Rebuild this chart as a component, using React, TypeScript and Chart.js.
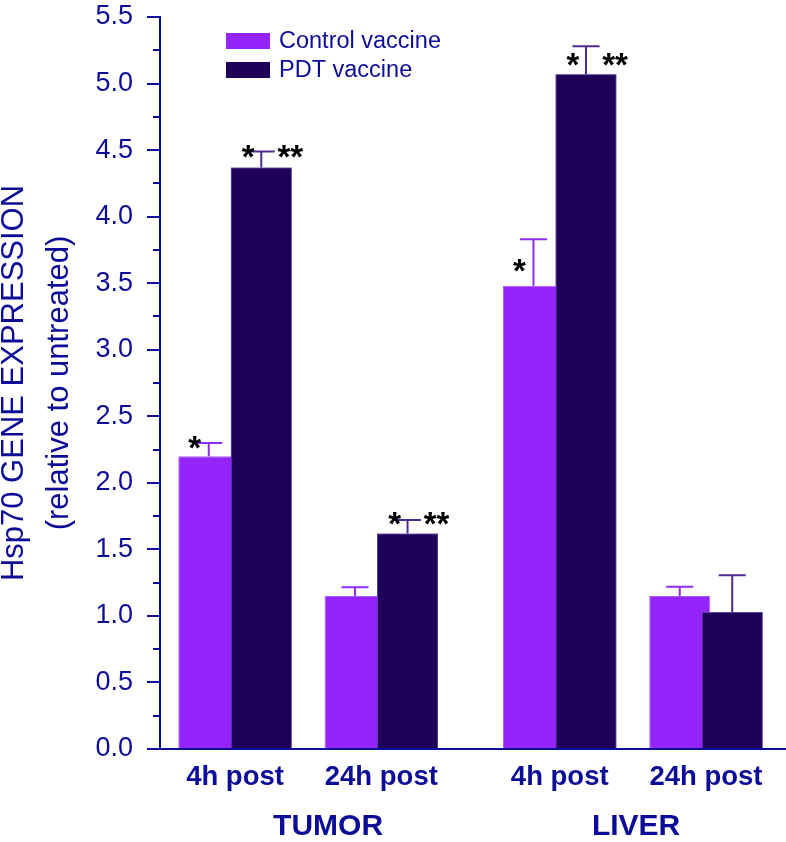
import React, { useEffect, useRef } from 'react';
import { Chart, registerables } from 'chart.js';

Chart.register(...registerables);

// ---- data ----
const tickLabels = ['4h post', '24h post', '4h post', '24h post'];
const groupLabels = ['TUMOR', 'LIVER'];
const groupSlots = [0, 1, 2.22, 3.22];
const groupLabelSlots = [0.636, 2.742];
const seriesNames = ['Control vaccine', 'PDT vaccine'];
const controlValues = [2.2, 1.15, 3.48, 1.15];
const controlErrors = [0.1, 0.065, 0.35, 0.07];
const pdtValues = [4.37, 1.62, 5.07, 1.03];
const pdtErrors = [0.12, 0.1, 0.21, 0.275];
const controlMarks = ['*', '', '*', ''];
const controlMarkLevels = [2.32, null, 3.65, null];
const pdtMarksLeft = ['*', '*', '*', ''];
const pdtMarksRight = ['**', '**', '**', ''];
const pdtMarkLevels = [4.51, 1.75, 5.2, null];
const yTickValues = [0, 0.5, 1, 1.5, 2, 2.5, 3, 3.5, 4, 4.5, 5, 5.5];

// ---- style ----
const NAVY = '#0c0c98';
const CONTROL = '#9424f9';
const CONTROL_EDGE = '#a45cf4';
const PDT = '#1e0059';
const PDT_EDGE = '#5b40a0';
const CONTROL_ERR = '#8f2cf0';
const PDT_ERR = '#4c2c8f';
const FAMILY = '"Liberation Sans", Arial, Helvetica, sans-serif';

const overlayPlugin = {
  id: 'overlay',
  afterDatasetsDraw(chart: any) {
    const ctx = chart.ctx;
    // PDT bars overlap the control bars: draw them on top
    const pdtMeta = chart.getDatasetMeta(1);
    ctx.save();
    pdtMeta.controller.draw();
    ctx.restore();

    const y = chart.scales.y;
    const drawErr = (idx: number, values: number[], errs: number[], color: string) => {
      const meta = chart.getDatasetMeta(idx);
      meta.data.forEach((bar: any, i: number) => {
        const top = y.getPixelForValue(values[i] + errs[i]);
        const base = y.getPixelForValue(values[i]);
        ctx.save();
        ctx.strokeStyle = color;
        ctx.lineWidth = 2;
        ctx.beginPath();
        ctx.moveTo(bar.x, base);
        ctx.lineTo(bar.x, top);
        ctx.moveTo(bar.x - 13.5, top);
        ctx.lineTo(bar.x + 13.5, top);
        ctx.stroke();
        ctx.restore();
      });
    };
    drawErr(0, controlValues, controlErrors, CONTROL_ERR);
    drawErr(1, pdtValues, pdtErrors, PDT_ERR);
  },
  afterDraw(chart: any) {
    const ctx = chart.ctx;
    const y = chart.scales.y;
    const area = chart.chartArea;

    // minor ticks on the y axis
    ctx.save();
    ctx.strokeStyle = NAVY;
    ctx.lineWidth = 2;
    for (let i = 0; i < yTickValues.length - 1; i++) {
      const v = (yTickValues[i] + yTickValues[i + 1]) / 2;
      const py = Math.round(y.getPixelForValue(v));
      ctx.beginPath();
      ctx.moveTo(area.left - 7, py);
      ctx.lineTo(area.left, py);
      ctx.stroke();
    }
    ctx.restore();

    // significance marks
    const starSize = 33;
    ctx.save();
    ctx.fillStyle = '#000';
    ctx.font = `bold ${starSize}px ${FAMILY}`;
    ctx.textAlign = 'center';
    ctx.textBaseline = 'alphabetic';
    const drop = starSize * 0.58;
    const cMeta = chart.getDatasetMeta(0);
    const pMeta = chart.getDatasetMeta(1);
    cMeta.data.forEach((bar: any, i: number) => {
      const lvl = controlMarkLevels[i];
      if (controlMarks[i] && lvl != null) {
        ctx.fillText(controlMarks[i], bar.x - 14, y.getPixelForValue(lvl) + drop);
      }
    });
    pMeta.data.forEach((bar: any, i: number) => {
      const lvl = pdtMarkLevels[i];
      if (lvl == null) return;
      const py = y.getPixelForValue(lvl) + drop;
      if (pdtMarksLeft[i]) ctx.fillText(pdtMarksLeft[i], bar.x - 13, py);
      if (pdtMarksRight[i]) ctx.fillText(pdtMarksRight[i], bar.x + 29, py);
    });
    ctx.restore();

    // legend
    ctx.save();
    const lx = area.left + 66;
    const ly = area.top + 16;
    const colors = [CONTROL, PDT];
    ctx.font = `23.5px ${FAMILY}`;
    ctx.textAlign = 'left';
    ctx.textBaseline = 'middle';
    seriesNames.forEach((name, i) => {
      const top = ly + i * 29;
      ctx.fillStyle = colors[i];
      ctx.fillRect(lx, top, 44, 16);
      ctx.fillStyle = NAVY;
      ctx.fillText(name, lx + 53, top + 9);
    });
    ctx.restore();
  },
};

export default function App() {
  const canvasRef = useRef<HTMLCanvasElement | null>(null);

  useEffect(() => {
    document.body.style.margin = '0';
    const canvas = canvasRef.current;
    if (!canvas) return;
    Chart.defaults.font.family = FAMILY;
    const xMin = -0.513;
    const xMax = 3.767;
    const chart = new Chart(canvas, {
      type: 'bar',
      data: {
        datasets: [
          {
            label: seriesNames[0],
            data: controlValues.map((v, i) => ({ x: groupSlots[i], y: v })),
            backgroundColor: CONTROL,
            borderColor: CONTROL_EDGE,
            borderWidth: 1,
            categoryPercentage: 0.718,
            barPercentage: 1.162,
          },
          {
            label: seriesNames[1],
            data: pdtValues.map((v, i) => ({ x: groupSlots[i], y: v })),
            backgroundColor: PDT,
            borderColor: PDT_EDGE,
            borderWidth: 1,
            categoryPercentage: 0.718,
            barPercentage: 1.162,
          },
        ],
      },
      options: {
        animation: false,
        responsive: false,
        devicePixelRatio: 1,
        layout: { padding: { top: 17, left: 0, right: 0, bottom: 0 } },
        plugins: {
          legend: { display: false },
          tooltip: { enabled: false },
        },
        scales: {
          x: {
            type: 'linear',
            position: 'bottom',
            offset: false,
            min: xMin,
            max: xMax,
            weight: 0,
            afterBuildTicks: (s: any) => {
              s.ticks = groupSlots.map((v) => ({ value: v }));
            },
            afterFit: (s: any) => {
              s.height = 52;
              s.paddingLeft = 0;
              s.paddingRight = 0;
            },
            grid: { display: false, drawTicks: false, offset: false },
            border: { display: true, color: NAVY, width: 2 },
            ticks: {
              callback: (_v: any, i: number) => tickLabels[i],
              font: { size: 27.5, weight: 'bold' },
              color: NAVY,
              padding: 12,
              autoSkip: false,
              maxRotation: 0,
              minRotation: 0,
            },
          },
          x2: {
            type: 'linear',
            position: 'bottom',
            offset: false,
            min: xMin,
            max: xMax,
            weight: 1,
            afterBuildTicks: (s: any) => {
              s.ticks = groupLabelSlots.map((v) => ({ value: v }));
            },
            afterFit: (s: any) => {
              s.height = 41;
              s.paddingLeft = 0;
              s.paddingRight = 0;
            },
            grid: { display: false, drawTicks: false, offset: false },
            border: { display: false },
            ticks: {
              callback: (_v: any, i: number) => groupLabels[i],
              font: { size: 30, weight: 'bold' },
              color: NAVY,
              padding: 8,
              autoSkip: false,
              maxRotation: 0,
              minRotation: 0,
            },
          },
          y: {
            type: 'linear',
            min: 0,
            max: 5.5,
            afterFit: (s: any) => {
              s.width = 160;
              s.paddingTop = 0;
              s.paddingBottom = 0;
            },
            ticks: {
              stepSize: 0.5,
              callback: (v: any) => Number(v).toFixed(1),
              font: { size: 27 },
              color: NAVY,
              padding: 14,
            },
            grid: {
              drawOnChartArea: false,
              drawTicks: true,
              tickLength: 13,
              color: NAVY,
              lineWidth: 2,
            },
            border: { display: true, color: NAVY, width: 2 },
            title: {
              display: true,
              text: ['Hsp70 GENE EXPRESSION', '(relative to untreated)'],
              font: { size: 31, lineHeight: 1.45 },
              color: NAVY,
              padding: { top: -8, bottom: 0 },
            },
          },
        },
      },
      plugins: [overlayPlugin],
    } as any);
    return () => chart.destroy();
  }, []);

  return (
    <div style={{ position: 'absolute', left: 0, top: 0, width: 786, height: 842 }}>
      <canvas ref={canvasRef} width={786} height={842} />
    </div>
  );
}
